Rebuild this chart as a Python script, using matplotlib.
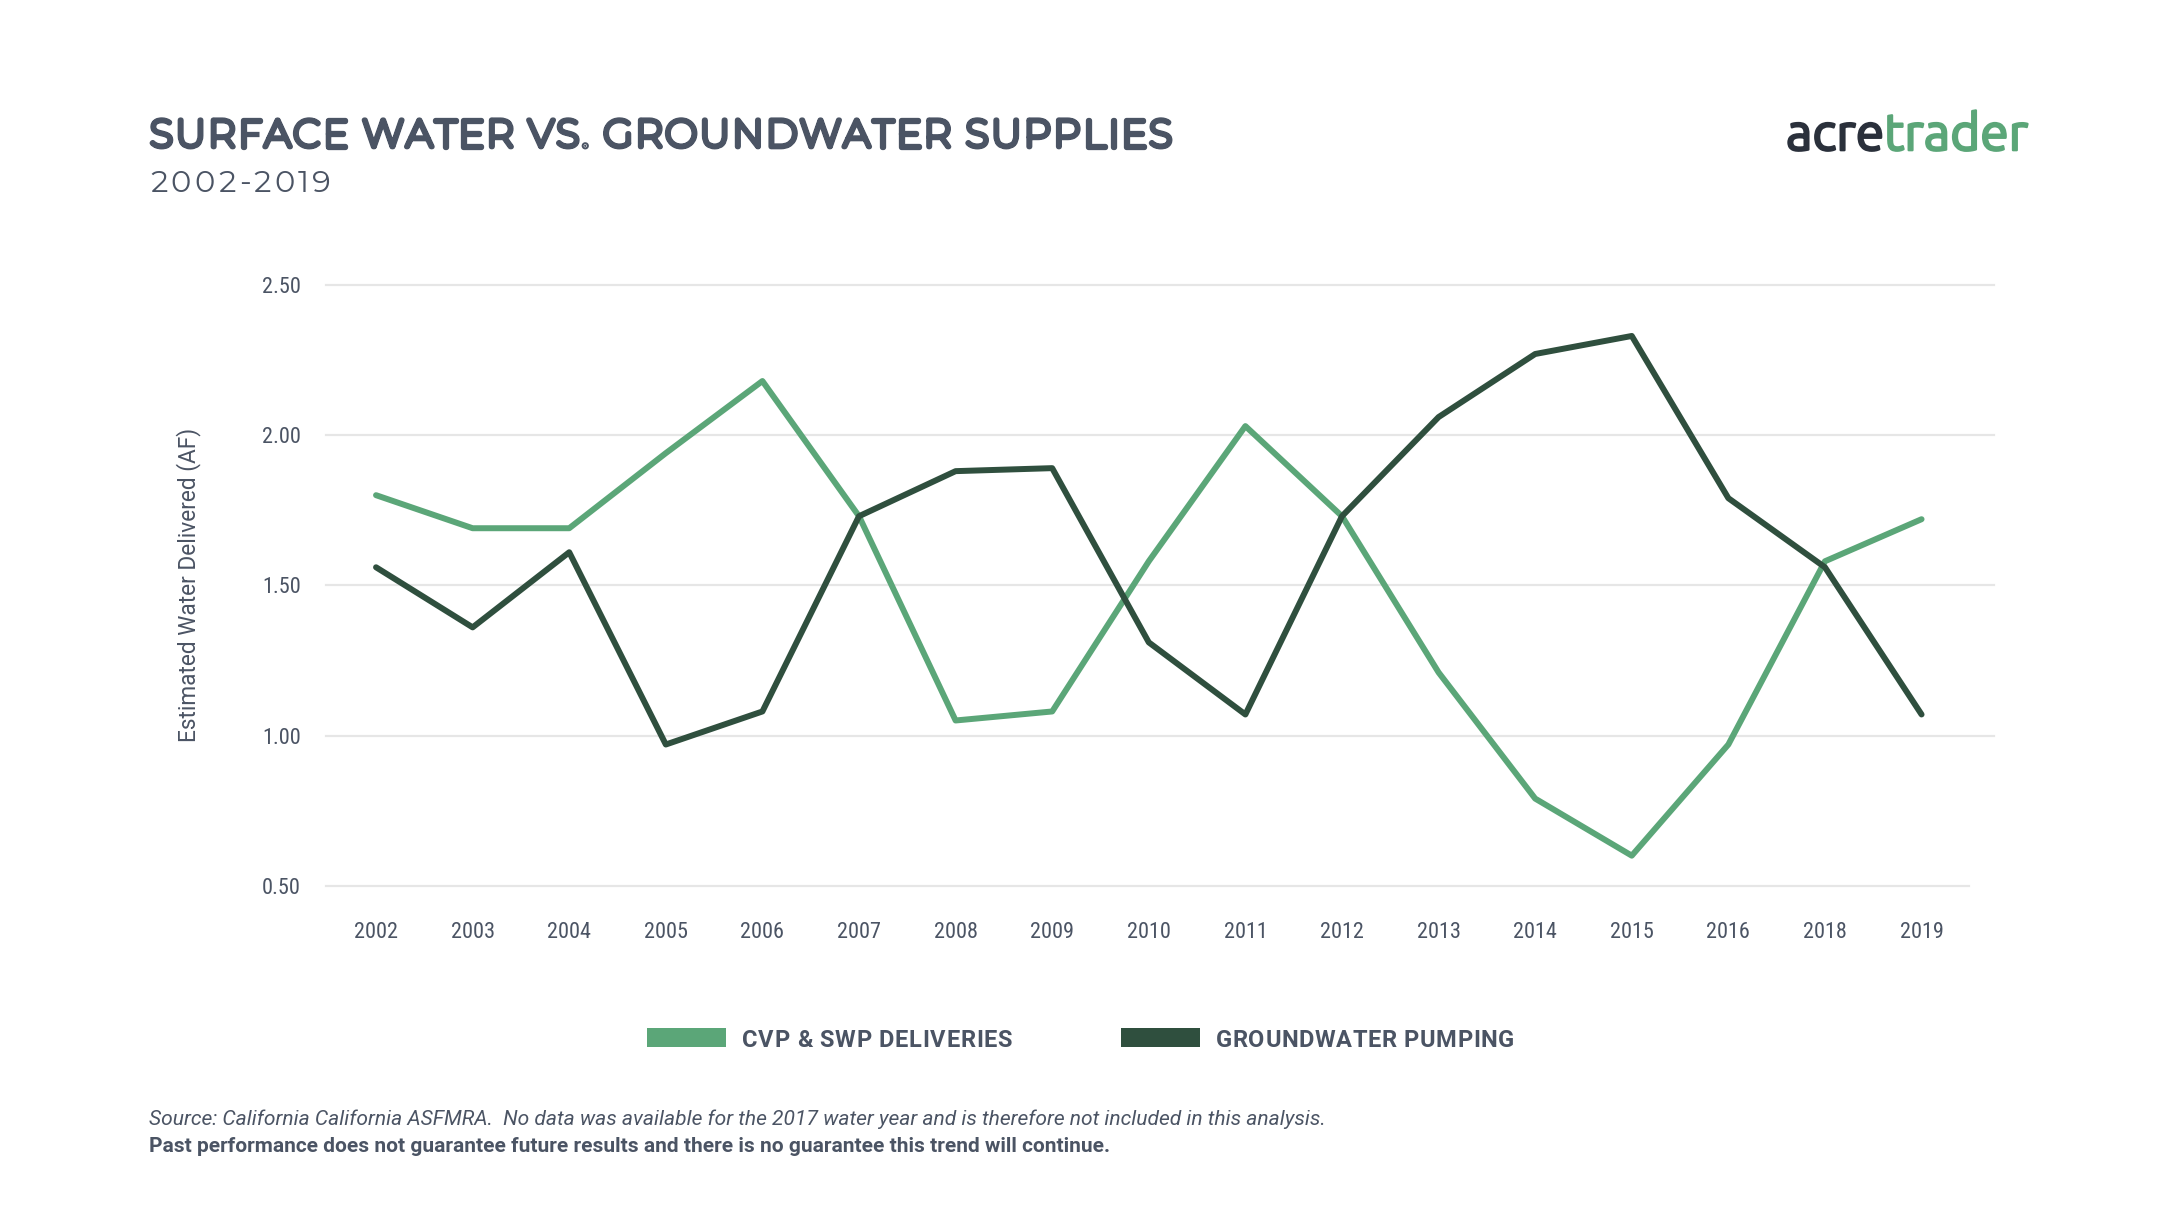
import matplotlib
matplotlib.use("Agg")
import matplotlib.pyplot as plt
import matplotlib.patheffects as pe
from matplotlib.patches import Rectangle
from matplotlib.font_manager import FontProperties, findfont, get_font
import numpy as np

years = ["2002", "2003", "2004", "2005", "2006", "2007", "2008", "2009", "2010",
         "2011", "2012", "2013", "2014", "2015", "2016", "2018", "2019"]
cvp_swp = [1.80, 1.69, 1.69, 1.94, 2.18, 1.73, 1.05, 1.08, 1.58,
           2.03, 1.73, 1.21, 0.79, 0.60, 0.97, 1.58, 1.72]
groundwater = [1.56, 1.36, 1.61, 0.97, 1.08, 1.73, 1.88, 1.89, 1.31,
               1.07, 1.73, 2.06, 2.27, 2.33, 1.79, 1.56, 1.07]
y_ticks = [0.5, 1.0, 1.5, 2.0, 2.5]

light = "#5ba678"
dark = "#2f4f3e"
txt = "#4b5464"
cond = ["Roboto Condensed", "DejaVu Sans"]
robo = ["Roboto", "DejaVu Sans"]

W, H = 2172, 1222
fig = plt.figure(figsize=(W / 100, H / 100), dpi=100)
fig.patch.set_facecolor("white")


def tracked(x0, x1, y_base, s, family, size, weight="normal", color=txt, stroke=0):
    # draw text letter by letter so it spans x0..x1 (pixels), baseline at y_base
    fp = FontProperties(family=family, weight=weight, size=size)
    font = get_font(findfont(fp))
    font.set_size(size, 100)
    adv = [font.load_char(ord(c)).linearHoriAdvance / 65536 for c in s]
    track = (x1 - x0 - sum(adv)) / (len(s) - 1)
    effects = [pe.withStroke(linewidth=stroke, foreground=color)] if stroke else None
    xp = x0
    for c, a in zip(s, adv):
        if c != " ":
            fig.text(xp / W, 1 - y_base / H, c, fontproperties=fp, color=color,
                     ha="left", va="baseline", path_effects=effects)
        xp += a + track


# axes box in pixels: x 326..1994, y 284.9..885.7
ax = fig.add_axes([326 / W, 1 - 885.7 / H, (1994 - 326) / W, (885.7 - 284.9) / H])
x = np.arange(len(years))
ax.plot(x, cvp_swp, color=light, lw=4.3, solid_capstyle="round", zorder=3, clip_on=False)
ax.plot(x, groundwater, color=dark, lw=4.3, solid_capstyle="round", zorder=3, clip_on=False)

ax.set_xlim(-0.518, len(years) - 1 + 0.75)
ax.set_ylim(0.5, 2.5)
for t in y_ticks:
    ax.axhline(t, xmin=0, xmax=0.985 if t == y_ticks[0] else 1, color="#e6e6e6",
               lw=1.6, zorder=0, clip_on=False)
ax.set_yticks(y_ticks)
ax.set_yticklabels([f"{v:.2f}" for v in y_ticks], family=cond, fontsize=16, color=txt)
ax.set_xticks(x)
ax.set_xticklabels(years, family=cond, fontsize=16, color=txt)
ax.tick_params(axis="both", length=0)
ax.tick_params(axis="y", pad=18)
ax.tick_params(axis="x", pad=26)
for s in ax.spines.values():
    s.set_visible(False)

ax.set_ylabel("Estimated Water Delivered (AF)", family=robo, fontsize=16.3, color=txt)
ax.yaxis.set_label_coords((189 - 326) / (1994 - 326), 0.5)
ax.yaxis.label.set_va("center")

# titles
tracked(150, 1172, 146.7, "SURFACE WATER VS. GROUNDWATER SUPPLIES",
        ["Montserrat", "DejaVu Sans"], 27.4, stroke=3.8)
tracked(150, 331, 191.5, "2002-2019", ["Montserrat Alternates", "DejaVu Sans"], 22,
        weight="normal")

# logo
t1 = fig.text(1786 / W, 1 - 135 / H, "acre", family=["Ubuntu", "DejaVu Sans"],
              fontsize=37, color="#2a303b", va="center", ha="left",
              path_effects=[pe.withStroke(linewidth=1.6, foreground="#2a303b")])
fig.canvas.draw()
bb = t1.get_window_extent()
fig.text(bb.x1 / W, 1 - 135 / H, "trader", family=["Ubuntu", "DejaVu Sans"],
         fontsize=37, color=light, va="center", ha="left",
         path_effects=[pe.withStroke(linewidth=1.6, foreground=light)])

# legend
ly = 1 - 1037 / H
for x0, col, label, tx0, tx1 in [(647, light, "CVP & SWP DELIVERIES", 742, 1012),
                                 (1121, dark, "GROUNDWATER PUMPING", 1216, 1514)]:
    fig.add_artist(Rectangle((x0 / W, ly - 9.5 / H), 79 / W, 19 / H,
                             transform=fig.transFigure, color=col, lw=0))
    tracked(tx0, tx1, 1047, label, robo, 17.0, weight="bold")

# footnotes
fig.text(149 / W, 1 - 1119 / H,
         "Source: California California ASFMRA.  No data was available for the 2017 water year and is therefore not included in this analysis.",
         family=robo, style="italic", fontsize=15.15, color=txt, va="center", ha="left")
fig.text(149 / W, 1 - 1146 / H,
         "Past performance does not guarantee future results and there is no guarantee this trend will continue.",
         family=robo, fontweight="bold", fontsize=15.0, color=txt, va="center", ha="left")

fig.savefig("out.png", dpi=100, facecolor="white")
